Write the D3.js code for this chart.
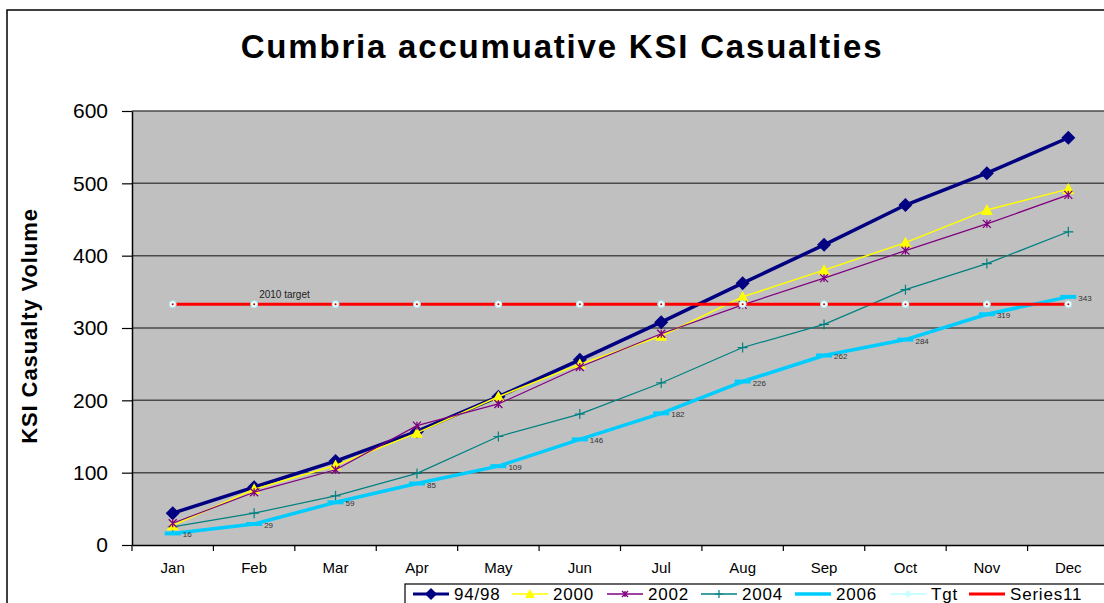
<!DOCTYPE html>
<html>
<head>
<meta charset="utf-8">
<title>Cumbria accumuative KSI Casualties</title>
<script src="https://d3js.org/d3.v7.min.js"></script>
<style>
  body { margin: 0; background: #fff; }
  svg { display: block; font-family: "Liberation Sans", Arial, sans-serif; }
</style>
</head>
<body>
<div id="stage"></div>
<script>
// data
var months = ["Jan", "Feb", "Mar", "Apr", "May", "Jun", "Jul", "Aug", "Sep", "Oct", "Nov", "Dec"];
var yTicks = [0, 100, 200, 300, 400, 500, 600];
var s9498 = [44, 80, 116, 157, 205, 256, 308, 362, 415, 470, 514, 563];
var s2000 = [27, 77, 110, 155, 205, 250, 289, 343, 380, 418, 463, 492];
var s2002 = [30, 73, 104, 165, 195, 246, 292, 332, 369, 407, 444, 484];
var s2004 = [25, 44, 68, 99, 150, 181, 224, 273, 305, 353, 389, 433];
var s2006 = [16, 29, 59, 85, 109, 146, 182, 226, 262, 284, 319, 343];
var tgt = [333, 333, 333, 333, 333, 333, 333, 333, 333, 333, 333, 333];
var series11 = [333, 333, 333, 333, 333, 333, 333, 333, 333, 333, 333, 333];
var legendNames = ["94/98", "2000", "2002", "2004", "2006", "Tgt", "Series11"];

var W = 1104, H = 603;
var plot = { left: 132, top: 111, width: 977, height: 434 };

var svg = d3.select("#stage").append("svg")
    .attr("width", W).attr("height", H);

// outer chart border
svg.append("rect")
    .attr("x", 7).attr("y", 10).attr("width", 1300).attr("height", 700)
    .attr("fill", "#fff").attr("stroke", "#000").attr("stroke-width", 1.5);

svg.append("text")
    .attr("x", 562).attr("y", 58)
    .attr("text-anchor", "middle")
    .attr("font-size", 33).attr("font-weight", "bold")
    .attr("letter-spacing", 1.8)
    .text("Cumbria accumuative KSI Casualties");

svg.append("text")
    .attr("transform", "translate(37,326) rotate(-90)")
    .attr("text-anchor", "middle")
    .attr("font-size", 22).attr("font-weight", "bold")
    .attr("letter-spacing", 0.9)
    .text("KSI Casualty Volume");

var x = d3.scaleBand().domain(months).range([plot.left, plot.left + plot.width]).padding(0);
var y = d3.scaleLinear().domain([0, 600]).range([plot.top + plot.height, plot.top]);
var cx = function(i) { return x(months[i]) + x.bandwidth() / 2; };

// plot background
svg.append("rect")
    .attr("x", plot.left).attr("y", plot.top)
    .attr("width", plot.width).attr("height", plot.height)
    .attr("fill", "#c0c0c0");

// gridlines
svg.append("g").selectAll("line")
    .data(yTicks.slice(1))
    .enter().append("line")
    .attr("x1", plot.left).attr("x2", plot.left + plot.width)
    .attr("y1", function(d) { return y(d); }).attr("y2", function(d) { return y(d); })
    .attr("stroke", "#4a4a4a").attr("stroke-width", 1.5);

// y axis
var yAxis = svg.append("g")
    .attr("transform", "translate(" + plot.left + ",0)")
    .call(d3.axisLeft(y).tickValues(yTicks).tickSize(10).tickSizeOuter(0).tickPadding(14));
yAxis.select(".domain").attr("stroke", "#000").attr("stroke-width", 1.5);
yAxis.selectAll("line").attr("stroke", "#000").attr("stroke-width", 1.2);
yAxis.selectAll("text").attr("font-size", 21).attr("font-family", "Liberation Sans, Arial, sans-serif").attr("fill", "#000");

// x axis
var xAxis = svg.append("g")
    .attr("transform", "translate(0," + (plot.top + plot.height) + ")")
    .call(d3.axisBottom(x).tickSize(0).tickSizeOuter(0).tickPadding(17));
xAxis.select(".domain").attr("stroke", "#000").attr("stroke-width", 1.5);
xAxis.selectAll("text").attr("font-size", 15).attr("font-family", "Liberation Sans, Arial, sans-serif").attr("fill", "#000");
xAxis.selectAll(".bound")
    .data(months)
    .enter().append("line")
    .attr("class", "bound")
    .attr("x1", function(d) { return x(d); }).attr("x2", function(d) { return x(d); })
    .attr("y1", 0).attr("y2", 6)
    .attr("stroke", "#000").attr("stroke-width", 1.2);

var line = d3.line()
    .x(function(d, i) { return cx(i); })
    .y(function(d) { return y(d); });

function drawLine(vals, color, width) {
    svg.append("path")
        .datum(vals)
        .attr("d", line)
        .attr("fill", "none")
        .attr("stroke", color)
        .attr("stroke-width", width)
        .attr("stroke-linejoin", "round");
}

// marker shapes
function markDiamond(g, color, s) {
    g.append("path").attr("d", "M0," + (-s) + "L" + s + ",0L0," + s + "L" + (-s) + ",0Z").attr("fill", color);
}
function markTriangle(g, color, s) {
    g.append("path").attr("d", "M0," + (-s) + "L" + s + "," + (s * 0.8) + "L" + (-s) + "," + (s * 0.8) + "Z").attr("fill", color);
}
function markStar(g, color, s) {
    g.append("path")
        .attr("d", "M" + (-s) + "," + (-s) + "L" + s + "," + s + "M" + (-s) + "," + s + "L" + s + "," + (-s) + "M0," + (-s) + "L0," + s)
        .attr("stroke", color).attr("stroke-width", 1.3);
}
function markPlus(g, color, s) {
    g.append("path")
        .attr("d", "M" + (-s) + ",0L" + s + ",0M0," + (-s) + "L0," + s)
        .attr("stroke", color).attr("stroke-width", 1.2);
}
function markDash(g, color, s) {
    g.append("path")
        .attr("d", "M" + (-s) + ",0L" + s + ",0")
        .attr("stroke", color).attr("stroke-width", 4);
}
function markTgt(g) {
    g.append("circle").attr("r", 3.5).attr("fill", "#f4ffff").attr("stroke", "#a8e8ee").attr("stroke-width", 1);
    g.append("circle").attr("r", 1).attr("fill", "#c00000");
}

function drawMarks(vals, fn, color, s) {
    vals.forEach(function(v, i) {
        var g = svg.append("g").attr("transform", "translate(" + cx(i) + "," + y(v) + ")");
        fn(g, color, s);
    });
}

// series
drawLine(s2004, "#008080", 1.2);
drawMarks(s2004, markPlus, "#008080", 5);

drawLine(s2006, "#00ccff", 3.5);
drawMarks(s2006, markDash, "#00ccff", 8);

drawLine(s9498, "#000080", 3.5);
drawMarks(s9498, markDiamond, "#000080", 7);

drawLine(s2000, "#ffff00", 1.5);
drawMarks(s2000, markTriangle, "#ffff00", 6);

drawLine(s2002, "#800080", 1.2);
drawMarks(s2002, markStar, "#800080", 4);

drawLine(tgt, "#ccffff", 1);
drawLine(series11, "#ff0000", 3);
drawMarks(tgt, markTgt, null, 0);

// labels on 2006
svg.append("g").selectAll("text")
    .data(s2006)
    .enter().append("text")
    .attr("x", function(d, i) { return cx(i) + 10; })
    .attr("y", function(d) { return y(d) + 4; })
    .attr("font-size", 8).attr("fill", "#333")
    .text(function(d) { return d; });

svg.append("text")
    .attr("x", cx(1) + 5).attr("y", y(333) - 6)
    .attr("font-size", 10).attr("fill", "#222")
    .text("2010 target");

// legend
var legend = svg.append("g");
legend.append("rect")
    .attr("x", 405).attr("y", 584).attr("width", 800).attr("height", 40)
    .attr("fill", "#fff").attr("stroke", "#000").attr("stroke-width", 1.2);

var legendSpec = [
    { color: "#000080", w: 3, fn: markDiamond, s: 6 },
    { color: "#ffff00", w: 1.5, fn: markTriangle, s: 5 },
    { color: "#800080", w: 1.5, fn: markStar, s: 3 },
    { color: "#008080", w: 1.5, fn: markPlus, s: 4 },
    { color: "#00ccff", w: 3.5, fn: null, s: 0 },
    { color: "#ccffff", w: 2, fn: markDiamond, s: 4 },
    { color: "#ff0000", w: 3, fn: null, s: 0 }
];
var legendX = [413, 512, 607, 701, 795, 890, 969];
legendNames.forEach(function(name, i) {
    var spec = legendSpec[i];
    var lx = legendX[i], ly = 594;
    legend.append("line")
        .attr("x1", lx).attr("x2", lx + 36).attr("y1", ly).attr("y2", ly)
        .attr("stroke", spec.color).attr("stroke-width", spec.w);
    if (spec.fn) {
        var g = legend.append("g").attr("transform", "translate(" + (lx + 18) + "," + ly + ")");
        spec.fn(g, spec.color, spec.s);
    }
    legend.append("text")
        .attr("x", lx + 41).attr("y", 600)
        .attr("font-size", 17).attr("letter-spacing", 0.8).attr("fill", "#000")
        .text(name);
});
</script>
</body>
</html>
